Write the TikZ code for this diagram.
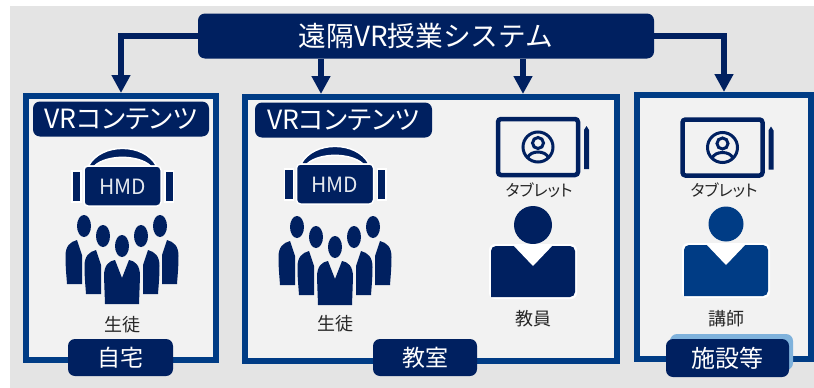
\documentclass[tikz,border=0pt]{standalone}
\usepackage{fontspec}
\setmainfont{Noto Sans CJK JP}
\usetikzlibrary{arrows.meta}
\definecolor{navy}{HTML}{002060}
\definecolor{framecol}{HTML}{003C85}
\definecolor{panelcol}{HTML}{F2F2F2}
\definecolor{bgcol}{HTML}{E4E4E4}
\definecolor{halocol}{HTML}{7FB2DC}
\newcommand{\palt}{\addfontfeatures{RawFeature=+palt}}
\tikzset{
  framebox/.style={draw=framecol, fill=panelcol, line width=6pt, outer sep=0pt, inner sep=0pt, minimum width=#1, minimum height=264pt},
  tagbox/.style={fill=navy, text=white, rounded corners=7pt, outer sep=0pt, inner sep=0pt, minimum height=#1},
  namelbl/.style={text=black!85, font=\fontsize{18}{20}\selectfont, inner sep=0pt},
  conn/.style={navy, line width=6pt, -{Triangle[width=18pt,length=18pt]}, shorten >=3pt},
  sideman/.pic={
    \fill[navy] (0,0) ellipse (7 and 11);
    \fill[navy] (-7,14) .. controls (-14,16) and (-18.5,20) .. (-18.5,30) .. controls (-18.5,42) and (-17.5,50) .. (-17,58) -- (-2,58) -- (-2,29) -- cycle;
  },
  crowd/.pic={
    \pic at (-38,-20) {sideman};
    \pic at (-19,-10) {sideman};
    \pic[xscale=-1] at (38,-20) {sideman};
    \pic[xscale=-1] at (19,-10) {sideman};
    \fill[navy] (0,0) ellipse (7 and 11);
    \fill[navy] (0,32) -- (-7,14) .. controls (-13,15) and (-18,19) .. (-18,30) -- (-17,58) -- (17,58) -- (18,30) .. controls (18,19) and (13,15) .. (7,14) -- cycle;
  },
  hmd/.pic={
    \filldraw[fill=navy, draw=white, line width=1.5pt] (-34,-20) .. controls (-22,-43.5) and (22,-43.5) .. (34,-20) -- (28,-20) .. controls (16,-31.5) and (-16,-31.5) .. (-28,-20) -- cycle;
    \filldraw[fill=navy, draw=white, line width=1.5pt] (-50.5,-15) rectangle (-41.5,16);
    \filldraw[fill=navy, draw=white, line width=1.5pt] (42.5,-15) rectangle (51,16);
    \filldraw[fill=navy, draw=white, line width=1.5pt, rounded corners=4pt] (-38.5,-20) rectangle (38.5,20);
    \node[text=white!90!navy, font=\fontsize{21}{23}\selectfont, inner sep=0pt] (-txt) at (0,1) {HMD};
  },
  tablet/.pic={
    \draw[navy, line width=4.5pt, rounded corners=3pt] (-40,-28) rectangle (40,28);
    \fill[navy] (46,22) -- (46,-17) -- (48.5,-21) -- (51,-17) -- (51,22) -- cycle;
    \draw[navy, line width=3pt] (0,0) circle (15);
    \draw[navy, line width=3pt] (0,-4) circle (5.5);
    \draw[navy, line width=3pt] (-10.5,11) .. controls (-8,3) and (8,3) .. (10.5,11);
  },
  pics/teacher/.style={code={
    \fill[pic actions] (0,0) circle (#1);
    \fill[white, rounded corners=6pt] (-44,19) rectangle (44,74);
    \fill[pic actions, rounded corners=5pt] (-42,21) -- (42,21) -- (42,72) [sharp corners] -- (-42,72) [rounded corners=5pt] -- cycle;
    \fill[white] (-21,19) -- (0,41) -- (21,19) -- cycle;
  }},
}
\begin{document}
\begin{tikzpicture}[x=1pt,y=-1pt]
\useasboundingbox (0,0) rectangle (814,388);
\fill[bgcol] (9.5,6) rectangle (814,388);

\node[framebox=190pt] (home) at (121,228) {};
\node[framebox=372pt] (room) at (431,229) {};
\node[framebox=174pt] (site) at (724,227) {};

\node[tagbox=45pt, minimum width=456pt, font=\fontsize{27.7}{30}\selectfont] (sys) at (426,36) {遠隔VR授業システム};

\coordinate (rooma) at (321,97);
\coordinate (roomb) at (523,97);

\draw[conn] (sys.west) -| (home.north);
\draw[conn] (sys.south -| rooma) -- (rooma);
\draw[conn] (sys.south -| roomb) -- (roomb);
\draw[conn] (sys.east) -| (site.north);

\node[tagbox=35pt, minimum width=176pt, font=\fontsize{26.5}{28}\selectfont\palt] (vra) at (121,119) {VRコンテンツ};
\node[tagbox=35pt, minimum width=177pt, font=\fontsize{26.5}{28}\selectfont\palt] (vrb) at (343.5,120) {VRコンテンツ};

\pic (hmda) at (122.5,186) {hmd};
\pic (hmdb) at (335,184) {hmd};

\pic at (122,246) {crowd};
\pic at (335,247) {crowd};

\node[namelbl] (stua) at (122,325) {生徒};
\node[namelbl] (stub) at (335,324) {生徒};

\pic at (538,147) {tablet};
\pic at (722.5,147.5) {tablet};

\node[namelbl, font=\fontsize{16}{18}\selectfont\palt] (taba) at (539,190) {タブレット};
\node[namelbl, font=\fontsize{16}{18}\selectfont\palt] (tabb) at (724,190) {タブレット};

\pic[fill=navy] at (533,225) {teacher=19};
\pic[fill=framecol] at (726,224) {teacher=17.5};

\node[namelbl] (tchr) at (533,319) {教員};
\node[namelbl] (lect) at (726,319) {講師};

\fill[halocol, rounded corners=7pt] (670,334) rectangle (793,370);

\node[tagbox=37pt, minimum width=105pt, font=\fontsize{23}{25}\selectfont] (taga) at (120.5,357.5) {自宅};
\node[tagbox=37pt, minimum width=104pt, font=\fontsize{23}{25}\selectfont] (tagb) at (425,357.5) {教室};
\node[tagbox=38pt, minimum width=123pt, font=\fontsize{24}{26}\selectfont] (tagc) at (727.5,358) {施設等};
\end{tikzpicture}
\end{document}
